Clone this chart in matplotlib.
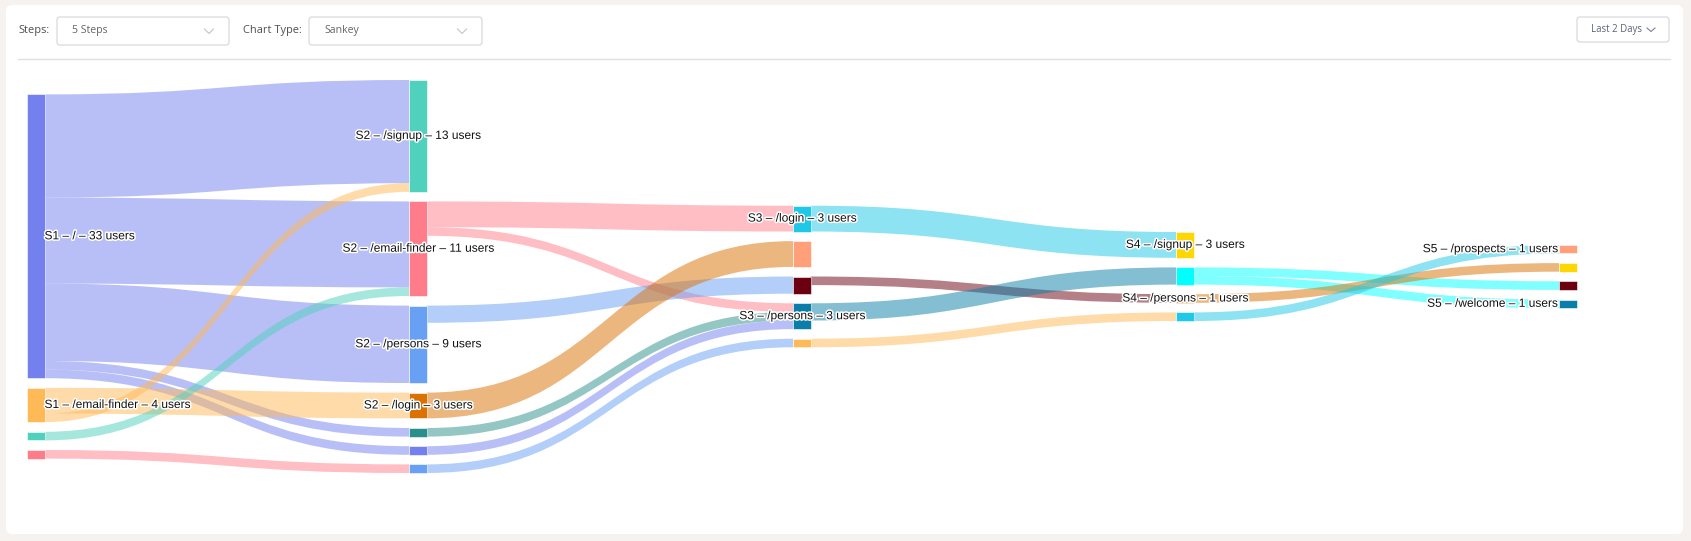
import matplotlib
matplotlib.use('Agg')
import matplotlib.pyplot as plt
import matplotlib.patheffects as pe
from matplotlib.patches import FancyBboxPatch, PathPatch, Rectangle
from matplotlib.path import Path

# pages shown in each step (empty name = node without a label)
step_pages = [
    ['/', '/email-finder', '', ''],
    ['/signup', '/email-finder', '/persons', '/login', '', '', ''],
    ['/login', '', '', '/persons', ''],
    ['/signup', '', '/persons', ''],
    ['/prospects', '', '', '/welcome'],
]
step_colors = [
    ['#7380ee', '#ffb957', '#4fd1bd', '#ff7d8a'],
    ['#4fd1bd', '#ff7d8a', '#68a0f4', '#db7100', '#2a8f8a', '#7380ee', '#68a0f4'],
    ['#1ec8e6', '#ffa07a', '#6b0010', '#0a7ea8', '#ffb957'],
    ['#ffd700', '#00ffff', '#db7100', '#1ec8e6'],
    ['#ffa07a', '#ffd700', '#6b0010', '#0a7ea8'],
]

# links: step of the source, source node, target node (in next step), users
link_step = [0, 0, 0, 0, 0, 0, 0, 0, 0,
             1, 1, 1, 1, 1, 1, 1,
             2, 2, 2, 2,
             3, 3, 3, 3]
link_from = [0, 0, 0, 0, 0, 1, 1, 2, 3,
             1, 1, 2, 3, 4, 5, 6,
             0, 2, 3, 4,
             1, 1, 2, 3]
link_to = [0, 1, 2, 4, 5, 3, 0, 1, 6,
           0, 3, 2, 1, 3, 3, 4,
           0, 2, 1, 3,
           2, 3, 1, 0]
link_users = [12, 10, 9, 1, 1, 3, 1, 1, 1,
              3, 1, 2, 3, 1, 1, 1,
              3, 1, 2, 1,
              1, 1, 1, 1]

W, H = 1691, 541
fig = plt.figure(figsize=(W / 100, H / 100), dpi=100)
fig.patch.set_facecolor('#f5f2ef')
ax = fig.add_axes([0, 0, 1, 1])
ax.set_xlim(0, W)
ax.set_ylim(H, 0)
ax.axis('off')

# white card
ax.add_patch(FancyBboxPatch((6, 5), 1677, 529, boxstyle='round,pad=0,rounding_size=6',
                            fc='white', ec='none', zorder=0))

# ---- top controls ----
hdr = dict(family='Open Sans', va='center')
ax.text(18, 31, 'Steps:', fontsize=7.9, color='#4f4f4f', **hdr)
ax.text(243, 31, 'Chart Type:', fontsize=7.9, color='#4f4f4f', **hdr)
for (x0, x1, txt) in [(57, 229, '5 Steps'), (309, 482, 'Sankey')]:
    ax.add_patch(FancyBboxPatch((x0, 17), x1 - x0, 28, boxstyle='round,pad=0,rounding_size=3',
                                fc='white', ec='#d9d9dc', lw=0.9, zorder=1))
    ax.text(x0 + 15, 31, txt, fontsize=7.6, color='#666666', **hdr)
    cx = x1 - 20
    ax.plot([cx - 4.5, cx, cx + 4.5], [29, 33.5, 29], color='#c4c4c8', lw=0.8)
ax.add_patch(FancyBboxPatch((1577, 17), 92, 25, boxstyle='round,pad=0,rounding_size=3',
                            fc='white', ec='#d9d9dc', lw=0.9, zorder=1))
ax.text(1591, 29.5, 'Last 2 Days', fontsize=6.9, color='#5b6477', **hdr)
ax.plot([1647, 1651, 1655], [28, 31.5, 28], color='#7a8294', lw=0.8)
ax.plot([18, 1670], [59, 59], color='#dfe0e5', lw=1)

# ---- sankey layout ----
col_left = [27, 409, 793, 1176, 1559]
node_w = 17.5
unit = 8.6      # px per user
gap = 9.6
center_y = 276.5

n_in = [[0] * len(p) for p in step_pages]
n_out = [[0] * len(p) for p in step_pages]
for s, a, b, v in zip(link_step, link_from, link_to, link_users):
    n_out[s][a] += v
    n_in[s + 1][b] += v
values = [[max(i, o) for i, o in zip(ins, outs)] for ins, outs in zip(n_in, n_out)]

node_top = []
for vals in values:
    total = sum(vals) * unit + gap * (len(vals) - 1)
    y = center_y - total / 2
    tops = []
    for v in vals:
        tops.append(y)
        y += v * unit + gap
    node_top.append(tops)

out_off = [list(t) for t in node_top]
in_off = [list(t) for t in node_top]
for s, a, b, v in zip(link_step, link_from, link_to, link_users):
    h = v * unit
    y0 = out_off[s][a]
    y1 = in_off[s + 1][b]
    out_off[s][a] += h
    in_off[s + 1][b] += h
    x0 = col_left[s] + node_w
    x1 = col_left[s + 1]
    xm = (x0 + x1) / 2
    verts = [(x0, y0), (xm, y0), (xm, y1), (x1, y1),
             (x1, y1 + h),
             (xm, y1 + h), (xm, y0 + h), (x0, y0 + h),
             (x0, y0)]
    codes = [Path.MOVETO, Path.CURVE4, Path.CURVE4, Path.CURVE4,
             Path.LINETO,
             Path.CURVE4, Path.CURVE4, Path.CURVE4,
             Path.CLOSEPOLY]
    ax.add_patch(PathPatch(Path(verts, codes), fc=step_colors[s][a], ec='none',
                           alpha=0.5, zorder=2))

halo = [pe.withStroke(linewidth=2.2, foreground='white')]
n_steps = len(step_pages)
for s in range(n_steps):
    for k, page in enumerate(step_pages[s]):
        v = values[s][k]
        top = node_top[s][k]
        ax.add_patch(Rectangle((col_left[s], top), node_w, v * unit,
                               fc=step_colors[s][k], ec='white', lw=0.4, zorder=3))
        if not page:
            continue
        label = f'S{s + 1} – {page} – {v} users'
        ym = top + v * unit / 2
        if s == 0:
            x, ha = col_left[s] + node_w, 'left'
        elif s == n_steps - 1:
            x, ha = col_left[s] - 2, 'right'
        else:
            x, ha = col_left[s] + node_w / 2, 'center'
        ax.text(x, ym, label, ha=ha, va='center', fontsize=8.6, color='#111111',
                family='Liberation Sans', zorder=4, path_effects=halo)

fig.savefig('out.png', dpi=100, facecolor=fig.get_facecolor())
